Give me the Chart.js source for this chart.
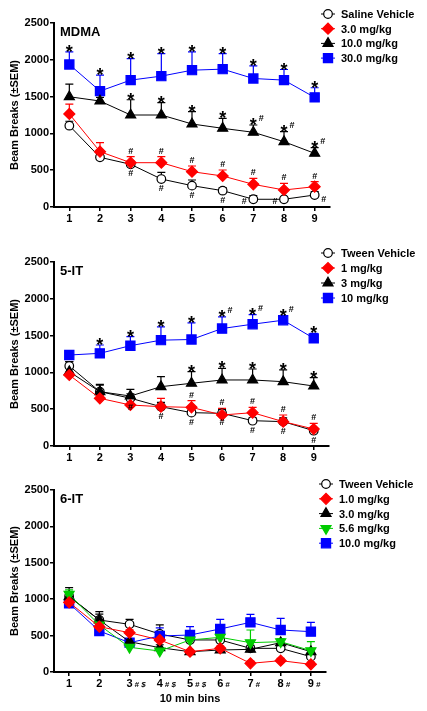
<!DOCTYPE html>
<html>
<head>
<meta charset="utf-8">
<script src="https://cdn.jsdelivr.net/npm/chart.js@4.4.1/dist/chart.umd.min.js"></script>
<style>
  body { margin: 0; background: #fff; width: 427px; height: 711px; overflow: hidden; position: relative; }
  canvas { position: absolute; left: 0; }
</style>
</head>
<body>
<canvas id="c1" width="427" height="232" style="top:0px"></canvas>
<canvas id="c2" width="427" height="240" style="top:230px"></canvas>
<canvas id="c3" width="427" height="251" style="top:460px"></canvas>
<script>
// --- data ---
const bins = ['1', '2', '3', '4', '5', '6', '7', '8', '9'];
const binSuffix6IT = ['', '', '# $', '# $', '# $', '#', '#', '#', '#'];

// MDMA
const mdmaSaline = [1105, 675, 580, 380, 290, 222, 105, 105, 163];
const mdmaSalineSem = [60, 40, 40, 90, 77, 40, 50, 30, 45];
const mdma3 = [1264, 752, 602, 602, 480, 421, 308, 231, 276];
const mdma3Sem = [135, 122, 82, 82, 77, 82, 82, 91, 68];
const mdma10 = [1498, 1440, 1250, 1250, 1128, 1069, 1015, 887, 729];
const mdma10Sem = [172, 50, 207, 167, 167, 136, 99, 136, 77];
const mdma30 = [1936, 1575, 1724, 1778, 1859, 1873, 1746, 1724, 1489];
const mdma30Sem = [171, 217, 293, 307, 248, 212, 172, 144, 131];
const mdmaSalineMarks = ['', '', '#', '#', '#', '#', '#', '#', '#'];
const mdma3Marks = ['', '', '#', '#', '#', '#', '#', '#', '#'];
const mdma10Marks = ['', '', '*', '*', '*', '*', '*#', '*#', '*#'];
const mdma30Marks = ['*', '*', '*', '*', '*', '*', '*', '*', '*'];

// 5-IT
const it5Tween = [1087, 738, 650, 534, 453, 444, 344, 331, 208];
const it5TweenSem = [60, 90, 60, 60, 50, 50, 40, 50, 40];
const it5_1 = [965, 648, 557, 534, 525, 421, 453, 331, 231];
const it5_1Sem = [40, 40, 60, 114, 91, 91, 72, 90, 77];
const it5_3 = [1010, 738, 679, 806, 852, 897, 897, 874, 815];
const it5_3Sem = [136, 100, 91, 136, 158, 158, 149, 159, 113];
const it5_10 = [1236, 1259, 1363, 1438, 1447, 1596, 1655, 1709, 1463];
const it5_10Sem = [20, 113, 122, 180, 226, 158, 131, 60, 68];
const it5TweenMarks = ['', '', '#', '#', '#', '#', '#', '#', '#'];
const it5_1Marks = ['', '', '', '', '#', '#', '#', '#', '#'];
const it5_3Marks = ['', '', '', '', '*', '*', '*', '*', '*'];
const it5_10Marks = ['', '*', '*', '*', '*', '*#', '*#', '*#', '*'];

// 6-IT
const it6Tween = [1040, 714, 655, 522, 440, 440, 325, 325, 211];
const it6TweenSem = [118, 114, 69, 124, 40, 60, 40, 40, 40];
const it6_1 = [957, 622, 540, 440, 279, 325, 119, 156, 105];
const it6_1Sem = [40, 40, 40, 40, 30, 30, 30, 30, 30];
const it6_3 = [1034, 714, 416, 334, 279, 302, 311, 403, 279];
const it6_3Sem = [60, 80, 40, 40, 30, 30, 40, 40, 40];
const it6_56 = [1067, 646, 339, 288, 440, 476, 403, 416, 293];
const it6_56Sem = [60, 60, 40, 40, 50, 40, 174, 40, 123];
const it6_10 = [943, 563, 403, 495, 508, 591, 682, 577, 554];
const it6_10Sem = [40, 60, 40, 110, 114, 133, 110, 160, 128];

Chart.defaults.font.family = "'Liberation Sans', Arial, sans-serif";
Chart.defaults.color = '#000';

// marker styles
const STYLES = {
  circle:  { pointStyle: 'circle', pointRadius: 4.3, fill: '#fff', color: '#000' },
  diamond: { pointStyle: 'rectRot', pointRadius: 5.5, fill: '#ff0000', color: '#ff0000' },
  tri:     { pointStyle: 'triangle', pointRadius: 5.8, fill: '#000', color: '#000' },
  invtri:  { pointStyle: 'triangle', pointRadius: 5.8, fill: '#00cc00', color: '#00cc00', rotation: 180 },
  square:  { pointStyle: 'rect', pointRadius: 6.5, fill: '#0000ff', color: '#0000ff' }
};
const ORDER = { circle: 5, square: 4, tri: 3, invtri: 2, diamond: 1 };

function makeDataset(label, data, sem, kind, marks) {
  const s = STYLES[kind];
  return {
    label: label,
    data: data,
    sem: sem,
    marks: marks || [],
    kind: kind,
    order: ORDER[kind],
    borderColor: s.color,
    borderWidth: 1,
    pointStyle: s.pointStyle,
    pointRadius: s.pointRadius,
    pointHoverRadius: s.pointRadius,
    pointRotation: s.rotation || 0,
    pointBackgroundColor: s.fill,
    pointBorderColor: s.color,
    pointBorderWidth: 1.2,
    tension: 0
  };
}

const extrasPlugin = {
  id: 'extras',
  beforeDatasetsDraw(chart) {
    // error bars (upper)
    const ctx = chart.ctx;
    const ys = chart.scales.y;
    chart.data.datasets.forEach((ds, i) => {
      const meta = chart.getDatasetMeta(i);
      ctx.save();
      ctx.strokeStyle = ds.borderColor;
      ctx.lineWidth = 1.2;
      meta.data.forEach((pt, j) => {
        const top = ys.getPixelForValue(ds.data[j] + ds.sem[j]);
        ctx.beginPath();
        ctx.moveTo(pt.x, pt.y);
        ctx.lineTo(pt.x, top);
        ctx.moveTo(pt.x - 4, top);
        ctx.lineTo(pt.x + 4, top);
        ctx.stroke();
      });
      ctx.restore();
    });
  },
  afterDatasetsDraw(chart, args, opts) {
    const ctx = chart.ctx;
    const ys = chart.scales.y;
    chart.data.datasets.forEach((ds, i) => {
      const meta = chart.getDatasetMeta(i);
      meta.data.forEach((pt, j) => {
        const m = ds.marks[j];
        if (!m) return;
        ctx.save();
        ctx.fillStyle = '#000';
        ctx.textAlign = 'center';
        ctx.textBaseline = 'alphabetic';
        if (ds.kind === 'circle') {
          // hashes below the vehicle points
          let x = pt.x, y = pt.y + 12;
          const side = (opts.side || {})[j];
          if (side === 'left') { x = pt.x - 9; y = pt.y + 5; }
          if (side === 'right') { x = pt.x + 9; y = pt.y + 7; }
          ctx.font = 'bold 9px "Liberation Sans", Arial';
          ctx.fillText('#', x, y);
        } else {
          const top = ys.getPixelForValue(ds.data[j] + ds.sem[j]);
          if (m[0] === '*') {
            ctx.font = 'bold 18px "Liberation Sans", Arial';
            ctx.fillText('*', pt.x, top + 6);
            if (m.length > 1) {
              ctx.font = 'bold 9px "Liberation Sans", Arial';
              ctx.fillText('#', pt.x + 8, top - 4);
            }
          } else {
            ctx.font = 'bold 9px "Liberation Sans", Arial';
            ctx.fillText('#', pt.x, top - 3);
          }
        }
        ctx.restore();
      });
    });
  },
  afterDraw(chart, args, opts) {
    const ctx = chart.ctx;
    const area = chart.chartArea;
    ctx.save();
    // panel name
    ctx.fillStyle = '#000';
    ctx.font = 'bold 13px "Liberation Sans", Arial';
    ctx.textBaseline = 'middle';
    ctx.textAlign = 'left';
    ctx.fillText(opts.name, area.left + 6, area.top + 9);
    // legend
    const lg = opts.legend;
    chart.data.datasets.forEach((ds, i) => {
      const y = lg.y + i * lg.step;
      ctx.strokeStyle = ds.borderColor;
      ctx.lineWidth = 1;
      ctx.beginPath();
      ctx.moveTo(lg.x - 7, y);
      ctx.lineTo(lg.x + 7, y);
      ctx.stroke();
      ctx.fillStyle = ds.pointBackgroundColor;
      ctx.strokeStyle = ds.pointBorderColor;
      ctx.lineWidth = ds.pointBorderWidth;
      Chart.helpers.drawPoint(ctx, {
        pointStyle: ds.pointStyle, radius: ds.pointRadius,
        rotation: ds.pointRotation, borderWidth: ds.pointBorderWidth
      }, lg.x, y);
      ctx.fillStyle = '#000';
      ctx.font = 'bold 11px "Liberation Sans", Arial';
      ctx.fillText(ds.label, lg.x + 13, y + 1);
    });
    // small tick suffixes
    if (opts.suffix) {
      const xs = chart.scales.x;
      ctx.font = 'italic bold 8px "Liberation Sans", Arial';
      ctx.textBaseline = 'alphabetic';
      opts.suffix.forEach((s, j) => {
        if (!s) return;
        ctx.fillText(s, xs.getPixelForTick(j) + 5, xs.top + 15);
      });
    }
    ctx.restore();
  }
};

function buildPanel(id, name, datasets, geo, pluginOpts) {
  const canvas = document.getElementById(id);
  return new Chart(canvas, {
    type: 'line',
    data: { labels: bins, datasets: datasets },
    options: {
      responsive: false,
      animation: false,
      layout: { padding: { top: geo.top, right: 427 - geo.right, left: 0, bottom: 0 } },
      plugins: {
        legend: { display: false },
        tooltip: { enabled: false },
        extras: Object.assign({ name: name }, pluginOpts)
      },
      scales: {
        x: {
          type: 'category',
          offset: true,
          afterFit: s => { s.height = geo.xHeight; },
          grid: { display: true, drawOnChartArea: false, drawTicks: true, tickLength: 4, color: '#000', lineWidth: 1.5 },
          border: { display: true, color: '#000', width: 2 },
          ticks: { font: { size: 11, weight: 'bold' }, padding: 1, maxRotation: 0 },
          title: geo.xTitle ? { display: true, text: geo.xTitle, font: { size: 11, weight: 'bold' }, padding: { top: 5, bottom: 5 } } : { display: false }
        },
        y: {
          min: 0,
          max: 2500,
          afterFit: s => { s.width = 54; },
          grid: { display: true, drawOnChartArea: false, drawTicks: true, tickLength: 4, color: '#000', lineWidth: 1.5 },
          border: { display: true, color: '#000', width: 2 },
          ticks: { stepSize: 500, font: { size: 11, weight: 'bold' }, padding: 1, callback: v => String(v) },
          title: { display: true, text: 'Beam Breaks (\u00b1SEM)', font: { size: 11, weight: 'bold' }, padding: { top: 8, bottom: 8 } }
        }
      }
    },
    plugins: [extrasPlugin]
  });
}

buildPanel('c1', 'MDMA', [
  makeDataset('Saline Vehicle', mdmaSaline, mdmaSalineSem, 'circle', mdmaSalineMarks),
  makeDataset('3.0 mg/kg', mdma3, mdma3Sem, 'diamond', mdma3Marks),
  makeDataset('10.0 mg/kg', mdma10, mdma10Sem, 'tri', mdma10Marks),
  makeDataset('30.0 mg/kg', mdma30, mdma30Sem, 'square', mdma30Marks)
], { top: 23, right: 330, xHeight: 25 },
{ legend: { x: 328, y: 14, step: 14.7 }, side: { 6: 'left', 7: 'left', 8: 'right' } });

buildPanel('c2', '5-IT', [
  makeDataset('Tween Vehicle', it5Tween, it5TweenSem, 'circle', it5TweenMarks),
  makeDataset('1 mg/kg', it5_1, it5_1Sem, 'diamond', it5_1Marks),
  makeDataset('3 mg/kg', it5_3, it5_3Sem, 'tri', it5_3Marks),
  makeDataset('10 mg/kg', it5_10, it5_10Sem, 'square', it5_10Marks)
], { top: 32, right: 329, xHeight: 24 },
{ legend: { x: 328, y: 23, step: 15 } });

buildPanel('c3', '6-IT', [
  makeDataset('Tween Vehicle', it6Tween, it6TweenSem, 'circle'),
  makeDataset('1.0 mg/kg', it6_1, it6_1Sem, 'diamond'),
  makeDataset('3.0 mg/kg', it6_3, it6_3Sem, 'tri'),
  makeDataset('5.6 mg/kg', it6_56, it6_56Sem, 'invtri'),
  makeDataset('10.0 mg/kg', it6_10, it6_10Sem, 'square')
], { top: 30, right: 326, xHeight: 39, xTitle: '10 min bins' },
{ legend: { x: 326, y: 24, step: 14.8 }, suffix: binSuffix6IT });
</script>
</body>
</html>
